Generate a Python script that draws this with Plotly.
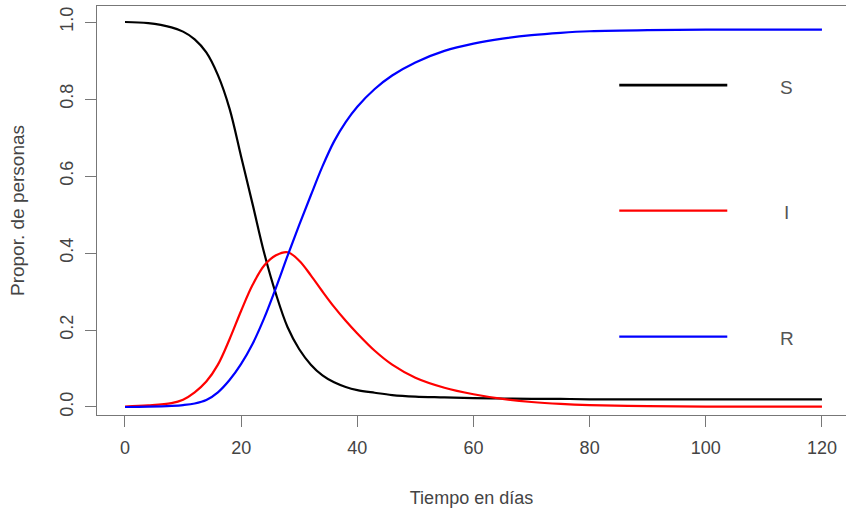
import plotly.graph_objects as go

# ---- data ----
dias = [0, 4, 8, 10, 12, 14, 16, 18, 20, 22, 24, 26, 28, 30, 32, 34, 36, 38, 40,
        43, 46, 50, 55, 60, 65, 70, 75, 80, 90, 100, 110, 120]
S = [1.000, 0.997, 0.986, 0.975, 0.955, 0.921, 0.862, 0.775, 0.650, 0.525, 0.398,
     0.293, 0.207, 0.150, 0.110, 0.082, 0.064, 0.052, 0.044, 0.037, 0.031, 0.027,
     0.025, 0.023, 0.022, 0.021, 0.021, 0.020, 0.020, 0.020, 0.020, 0.020]
I = [0.001, 0.004, 0.010, 0.019, 0.038, 0.066, 0.110, 0.176, 0.250, 0.318, 0.368,
     0.394, 0.402, 0.380, 0.342, 0.300, 0.260, 0.224, 0.191, 0.146, 0.110, 0.076,
     0.050, 0.033, 0.021, 0.013, 0.008, 0.005, 0.002, 0.001, 0.001, 0.001]
R = [0.000, 0.001, 0.003, 0.005, 0.009, 0.018, 0.038, 0.070, 0.112, 0.165, 0.232,
     0.310, 0.393, 0.473, 0.550, 0.625, 0.690, 0.740, 0.780, 0.826, 0.861, 0.895,
     0.925, 0.944, 0.957, 0.966, 0.972, 0.976, 0.979, 0.980, 0.980, 0.980]

series_names = ["S", "I", "R"]
series_colors = ["#000000", "#FF0000", "#0000FF"]
x_ticks = [0, 20, 40, 60, 80, 100, 120]
y_ticks = [0.0, 0.2, 0.4, 0.6, 0.8, 1.0]
y_ticklabels = ["0.0", "0.2", "0.4", "0.6", "0.8", "1.0"]

# legend placement (data coordinates)
leg_x0, leg_x1, leg_xtxt = 85.1, 103.7, 113.9
leg_y = [0.836, 0.510, 0.183]

FONT = "Liberation Sans, Arial, sans-serif"
AX = "#777777"
TXT = "#444444"

fig = go.Figure()
for name, vals, col in zip(series_names, [S, I, R], series_colors):
    fig.add_trace(go.Scatter(x=dias, y=vals, mode="lines", name=name,
                             line=dict(color=col, width=2.2, shape="spline", smoothing=1.0),
                             showlegend=False))

for name, col, yy in zip(series_names, series_colors, leg_y):
    fig.add_shape(type="line", xref="x", yref="y", x0=leg_x0, x1=leg_x1, y0=yy, y1=yy,
                  line=dict(color=col, width=2.6 if name == "S" else 2.2))
    fig.add_annotation(x=leg_xtxt, y=yy - 0.006, xref="x", yref="y", text=name,
                       showarrow=False, font=dict(family=FONT, size=19, color="#555555"),
                       xanchor="center", yanchor="middle")

fig.update_layout(
    width=846, height=513,
    margin=dict(l=97, r=0, t=6, b=98),
    paper_bgcolor="white", plot_bgcolor="white",
    font=dict(family=FONT, size=18, color=TXT),
    xaxis=dict(range=[-4.82, 124.14], tickvals=x_ticks, ticks="outside", ticklen=11,
               tickcolor=AX, tickwidth=1.3, showline=True, linecolor=AX, linewidth=1.3,
               mirror=True, showgrid=False, zeroline=False, ticklabelstandoff=5,
               tickfont=dict(family=FONT, size=18, color=TXT),
               title=dict(text="Tiempo en días", font=dict(family=FONT, size=18, color=TXT),
                          standoff=34)),
    yaxis=dict(range=[-0.0208, 1.0416], tickvals=y_ticks, ticktext=y_ticklabels,
               ticks="outside", ticklen=11, tickcolor=AX, tickwidth=1.3,
               showline=True, linecolor=AX, linewidth=1.3, mirror=False,
               showgrid=False, zeroline=False, tickangle=-90, ticklabelstandoff=5,
               tickfont=dict(family=FONT, size=18, color=TXT),
               title=dict(text="Propor. de personas", font=dict(family=FONT, size=19, color=TXT),
                          standoff=27)),
)

fig.write_html("out.html")
